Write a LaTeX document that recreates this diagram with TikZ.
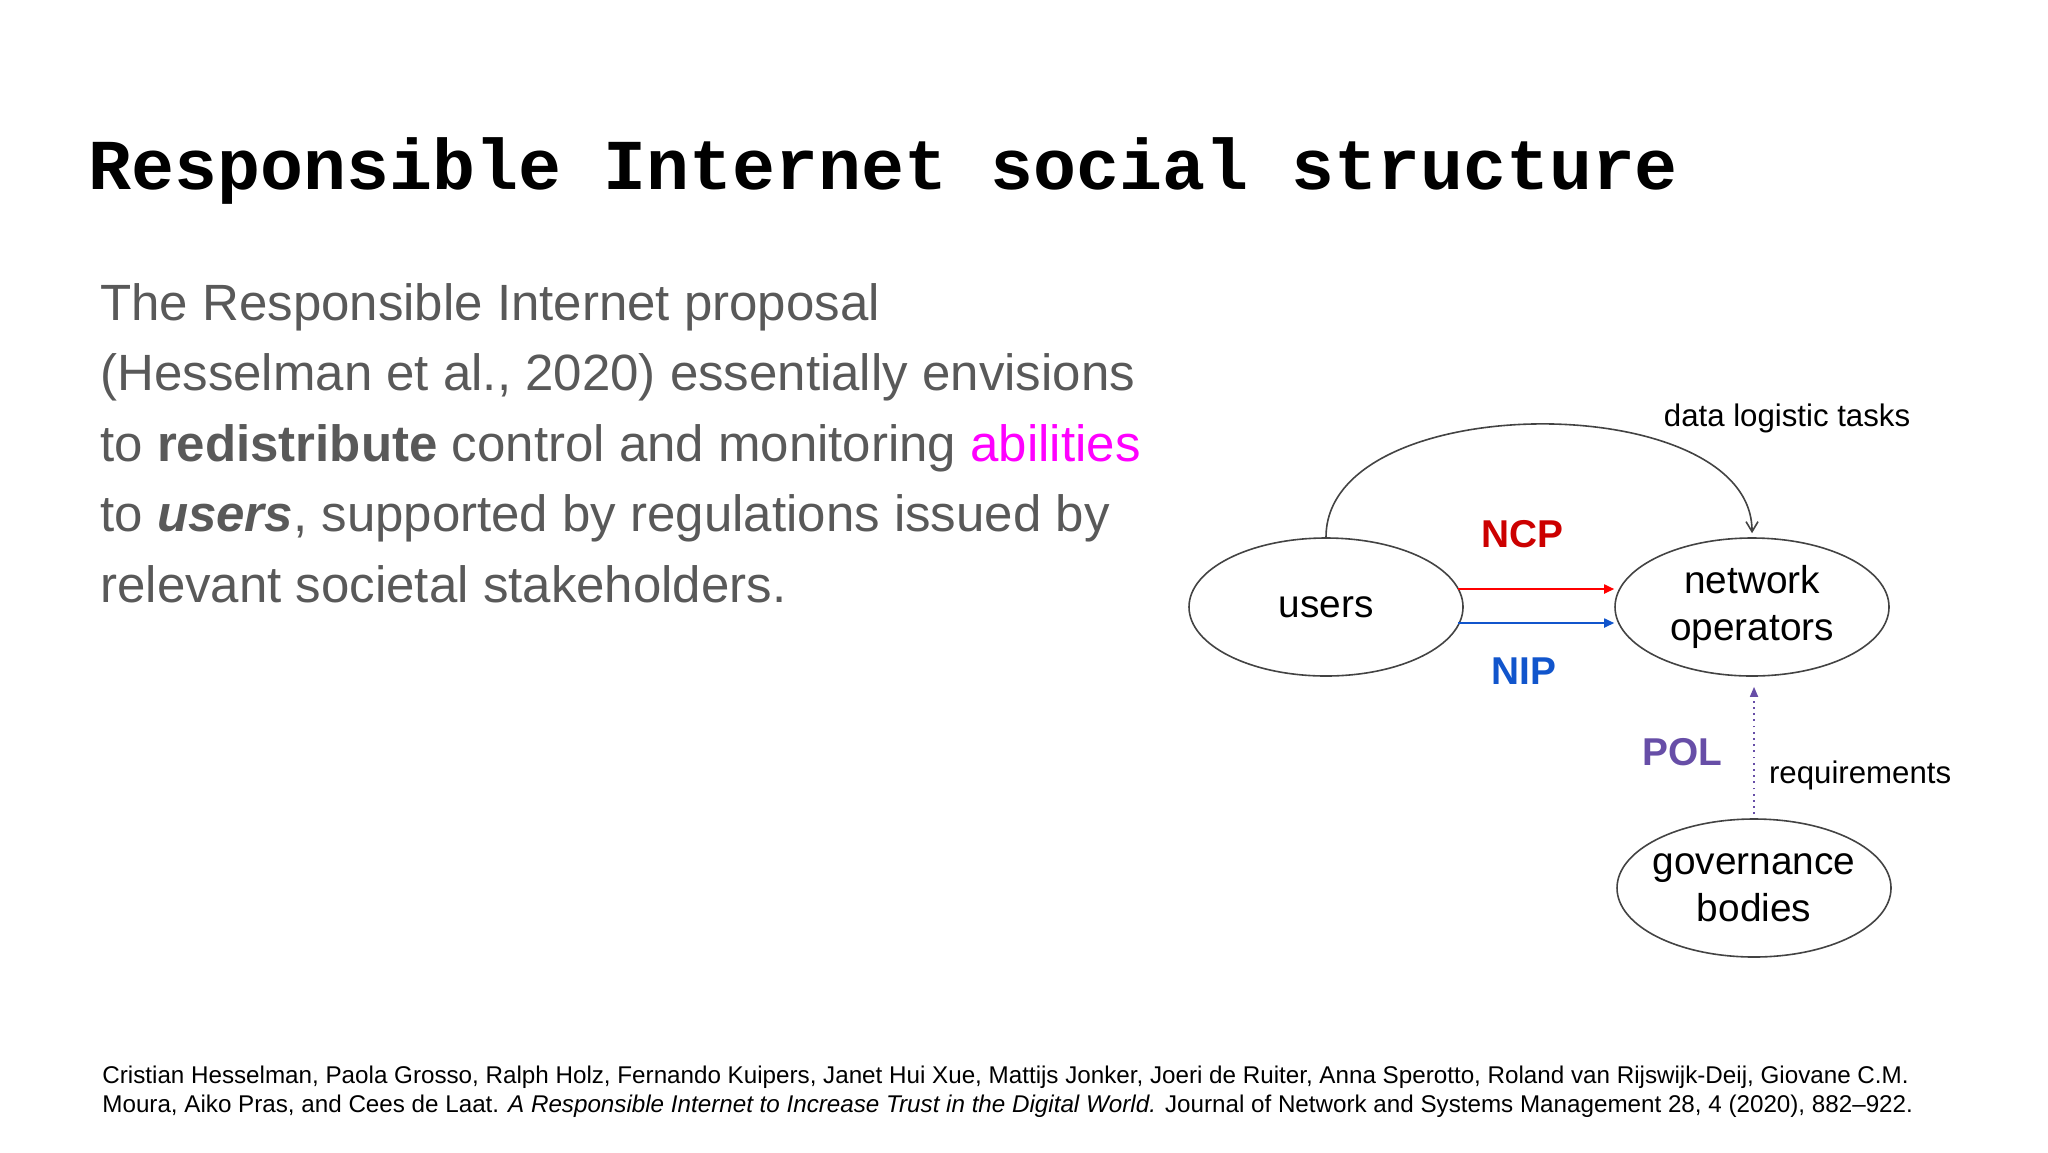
\documentclass[tikz,border=0pt]{standalone}
\usepackage{fontspec}
\setmainfont{Liberation Sans}
\newfontfamily\titlefont{Liberation Mono}
\usetikzlibrary{shapes.geometric,arrows.meta,positioning}
\definecolor{bodygray}{HTML}{595959}
\definecolor{ncpred}{HTML}{CC0000}
\definecolor{arrred}{HTML}{FF0000}
\definecolor{nipblue}{HTML}{1155CC}
\definecolor{polpurple}{HTML}{674EA7}
\definecolor{edgegray}{HTML}{434343}
\begin{document}
\begin{tikzpicture}[x=0.5pt,y=-0.5pt,
actor/.style={ellipse,draw=edgegray,line width=0.8pt,minimum width=137pt,minimum height=69pt,
  inner sep=0pt,inner xsep=-12pt,align=center,font=\fontsize{19.4}{23.5}\selectfont},
flow/.style={line width=0.9pt,-{Triangle[length=5pt,width=4.5pt]},shorten <=-3pt},
tag/.style={font=\fontsize{19.4}{23}\selectfont\bfseries},
note/.style={font=\fontsize{15.6}{18}\selectfont}
]
\useasboundingbox (0,0) rectangle (2048,1152);
\node[anchor=base west,inner sep=0pt,font=\titlefont\bfseries\fontsize{35.8}{40}\selectfont] (title) at (88,189)
  {Responsible Internet social structure};
\node[anchor=north west,inner sep=0pt,align=left,text=bodygray,font=\fontsize{25.5}{35.25}\selectfont] (intro) at (100,283)
  {The Responsible Internet proposal\\
   (Hesselman et al., 2020) essentially envisions\\
   to \textbf{redistribute} control and monitoring \textcolor[HTML]{FF00FF}{abilities}\\
   to \textbf{\textit{users}}, supported by regulations issued by\\
   relevant societal stakeholders.};
% the three parties
\node[actor] (users) at (1326,607) {users};
\node[actor] (ops) at (1752,607) {network\\operators};
\node[actor] (gov) at (1754,888) {governance\\bodies};
%\draw[edgegray] (users) to[out=90,in=95] (ops);
\draw[edgegray,line width=0.8pt,-{Straight Barb[length=5pt,width=6pt]},shorten >=2pt]
  (users.north) .. controls +(0,-150) and +(0,-150) .. (ops.north);
\node[note] (dlt) at (1787,418) {data logistic tasks};
\draw[flow,arrred] ([yshift=9pt]users.east) -- ([yshift=9pt]ops.west);
\draw[flow,nipblue] ([yshift=-8pt]users.east) -- ([yshift=-8pt]ops.west);
\node[tag,text=ncpred] (ncp) at (1522,534) {NCP};
\node[tag,text=nipblue] (nip) at (1524,671) {NIP};
\draw[polpurple,line width=0.8pt,dash pattern=on 0.9pt off 2.2pt,
  -{Triangle[length=5pt,width=4pt]},shorten >=5pt,shorten <=2pt] (gov.north) -- (gov.north |- ops.south);
\node[tag,text=polpurple] (pol) at (1682,752) {POL};
\node[note,anchor=west] (req) at (1762,775) {requirements};
% reference
\node[anchor=north west,inner sep=0pt,align=left,font=\fontsize{12.1}{14.4}\selectfont] (cite) at (102,1066)
  {Cristian Hesselman, Paola Grosso, Ralph Holz, Fernando Kuipers, Janet Hui Xue, Mattijs Jonker, Joeri de Ruiter, Anna Sperotto, Roland van Rijswijk-Deij, Giovane C.M.\\
   Moura, Aiko Pras, and Cees de Laat. \textit{A Responsible Internet to Increase Trust in the Digital World.} Journal of Network and Systems Management 28, 4 (2020), 882--922.};
\end{tikzpicture}
\end{document}
